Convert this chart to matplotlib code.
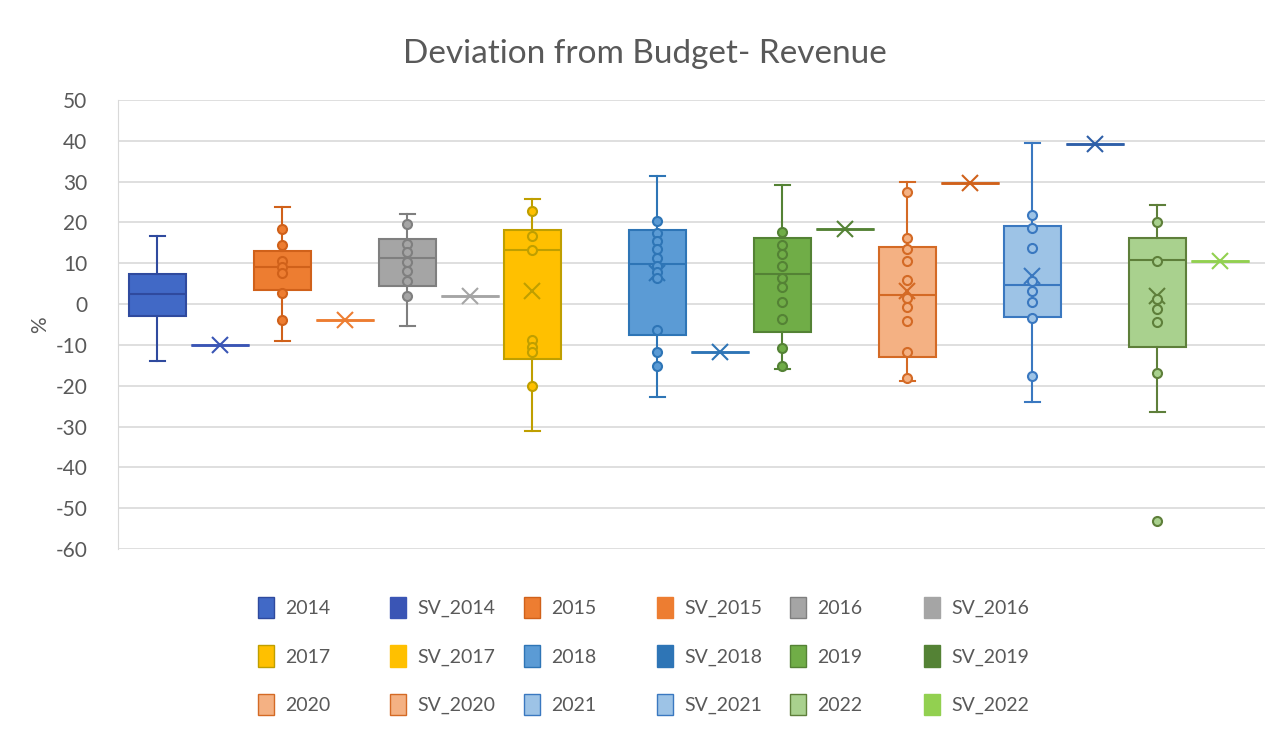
import numpy as np
import matplotlib
matplotlib.use("Agg")
from matplotlib import pyplot as plt
from matplotlib.patches import Patch

plt.rcParams["font.family"] = ["Lato", "DejaVu Sans"]
plt.rcParams["axes.unicode_minus"] = False

years = ["2014", "2015", "2016", "2017", "2018", "2019", "2020", "2021", "2022"]

# box statistics (%)
whis_lo = [-13.9, -9.0, -5.3, -31.2, -22.7, -15.9, -18.9, -24.1, -26.5]
q1 = [-2.9, 3.4, 4.5, -13.5, -7.6, -6.9, -12.9, -3.1, -10.6]
median = [2.4, 9.0, 11.3, 13.3, 9.8, 7.4, 2.3, 4.8, 10.9]
q3 = [7.3, 13.1, 15.9, 18.1, 18.1, 16.2, 14.1, 19.2, 16.1]
whis_hi = [16.8, 23.7, 22.0, 25.7, 31.4, 29.1, 29.8, 39.4, 24.3]
mean = [np.nan, np.nan, np.nan, 3.3, 7.5, np.nan, 3.3, 6.9, 2.1]

# inner points
points = [
    [],
    [18.5, 14.5, 10.6, 9.0, 7.6, 2.7, -3.9],
    [19.6, 14.7, 12.7, 10.2, 8.2, 5.7, 2.0],
    [22.7, 16.6, 13.3, -8.8, -10.6, -11.7, -20.0],
    [20.4, 17.5, 15.5, 13.5, 11.4, 9.4, 7.8, 6.5, -6.3, -11.7, -15.1],
    [17.6, 14.5, 12.3, 9.4, 6.5, 4.3, 0.5, -3.7, -10.8, -15.1],
    [27.4, 16.3, 13.5, 10.6, 5.9, 1.5, -0.8, -4.1, -11.8, -18.1],
    [21.9, 18.6, 13.7, 5.6, 3.3, 0.4, -3.4, -17.6],
    [20.0, 10.6, 1.2, -1.1, -4.3, -17.0, -53.1],
]

# single values (SV_<year>)
sv_values = [-10.0, -3.8, 2.0, np.nan, -11.7, 18.3, 29.6, 39.2, 10.5]

fill_colors = ["#4169C6", "#ED7D31", "#A5A5A5", "#FFC000", "#5B9BD5",
               "#70AD47", "#F4B183", "#9DC3E6", "#A9D18E"]
edge_colors = ["#2F4A9E", "#D0611A", "#7F7F7F", "#BF9F00", "#2E75B6",
               "#548235", "#D46A25", "#3A78C0", "#5E7F3A"]
sv_colors = ["#3A55B5", "#ED7D31", "#A5A5A5", "#FFC000", "#2E75B6",
             "#548235", "#D0611A", "#2E5FA8", "#92D050"]

fig = plt.figure(figsize=(12.7, 7.43), dpi=100)
ax = fig.add_axes([0.0929, 0.2611, 0.9031, 0.6043])

text_color = "#595959"
grid_color = "#D9D9D9"

for i, yr in enumerate(years):
    x_box = 2 * i
    x_sv = 2 * i + 1
    stats = [{
        "whislo": whis_lo[i], "q1": q1[i], "med": median[i],
        "q3": q3[i], "whishi": whis_hi[i], "mean": mean[i], "fliers": [],
    }]
    ec = edge_colors[i]
    ax.bxp(
        stats, positions=[x_box], widths=0.91, capwidths=0.25,
        patch_artist=True, showmeans=True, showfliers=False,
        boxprops=dict(facecolor=fill_colors[i], edgecolor=ec, linewidth=1.5),
        medianprops=dict(color=ec, linewidth=1.5),
        whiskerprops=dict(color=ec, linewidth=1.5),
        capprops=dict(color=ec, linewidth=1.5),
        meanprops=dict(marker="x", markersize=11, markeredgecolor=ec,
                       markeredgewidth=1.5),
        zorder=3,
    )
    pts = points[i]
    if pts:
        ax.plot([x_box] * len(pts), pts, linestyle="none", marker="o",
                markersize=6.5, markerfacecolor=fill_colors[i],
                markeredgecolor=ec, markeredgewidth=1.5, zorder=4)

    if not np.isnan(sv_values[i]):
        v = sv_values[i]
        sv_stats = [{"whislo": v, "q1": v, "med": v, "q3": v, "whishi": v,
                     "mean": v, "fliers": []}]
        sc = sv_colors[i]
        ax.bxp(
            sv_stats, positions=[x_sv], widths=0.93,
            patch_artist=True, showmeans=True, showfliers=False, showcaps=False,
            boxprops=dict(facecolor=sc, edgecolor=sc, linewidth=1.8),
            medianprops=dict(color=sc, linewidth=1.8),
            whiskerprops=dict(color=sc, linewidth=1.8),
            meanprops=dict(marker="x", markersize=12, markeredgecolor=sc,
                           markeredgewidth=1.5),
            zorder=3,
        )

ax.set_xlim(-0.63, 17.72)
ax.set_ylim(-60, 50)
ax.set_yticks(np.arange(-60, 51, 10))
ax.set_xticks([])
ax.yaxis.grid(True, color=grid_color, linewidth=1.2)
ax.set_axisbelow(True)
for side in ["top", "right", "bottom"]:
    ax.spines[side].set_visible(False)
ax.spines["left"].set_color(grid_color)
ax.tick_params(axis="y", length=0, pad=22, labelsize=15, labelcolor=text_color)
ax.set_ylabel("%", fontsize=15, color=text_color, labelpad=4)

fig.text(0.508, 0.927, "Deviation from Budget- Revenue", ha="center",
         va="center", fontsize=24, color=text_color)

# legend, row-wise, uniform column spacing
labels = []
handles = []
for i, yr in enumerate(years):
    labels.append(yr)
    handles.append(Patch(facecolor=fill_colors[i], edgecolor=edge_colors[i]))
    labels.append("SV_" + yr)
    sv_ec = edge_colors[i] if i in (6, 7) else sv_colors[i]
    sv_fc = fill_colors[i] if i in (6, 7) else sv_colors[i]
    handles.append(Patch(facecolor=sv_fc, edgecolor=sv_ec))

col_x = [258, 390, 524, 657, 790, 924]
for c in range(6):
    fig.legend(
        [handles[c + 6 * r] for r in range(3)],
        [labels[c + 6 * r] for r in range(3)],
        loc="upper left", bbox_to_anchor=(col_x[c] / 1270 - 0.006, 0.207),
        frameon=False, fontsize=14, labelcolor=text_color,
        handlelength=0.8, handleheight=1.3, handletextpad=0.6,
        labelspacing=1.4, borderaxespad=0,
    )

fig.savefig("out.png", dpi=100, facecolor="white")
